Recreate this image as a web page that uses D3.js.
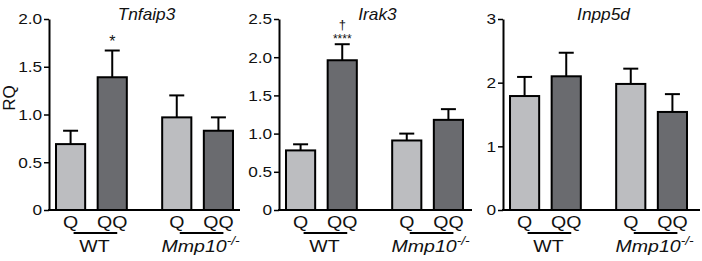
<!DOCTYPE html>
<html lang="en">
<head>
<meta charset="UTF-8">
<title>RQ</title>
<script src="https://d3js.org/d3.v7.min.js"></script>
<style>
  body { margin: 0; background: #fff; }
  svg text { font-family: "Liberation Sans", Arial, sans-serif; fill: #111; }
</style>
</head>
<body>
<div class="chart"></div>
<script>
  // data
  const genes = ["Tnfaip3", "Irak3", "Inpp5d"];
  const groups = ["WT", "Mmp10"];
  const treatments = ["Q", "QQ"];

  const tnfaip3Mean = [0.69, 1.39, 0.97, 0.83];
  const tnfaip3Err = [0.14, 0.28, 0.23, 0.14];
  const irak3Mean = [0.78, 1.96, 0.91, 1.18];
  const irak3Err = [0.08, 0.21, 0.09, 0.14];
  const inpp5dMean = [1.79, 2.10, 1.98, 1.54];
  const inpp5dErr = [0.30, 0.37, 0.24, 0.28];

  const yMax = [2, 2.5, 3];
  const yTicks = [[0, 0.5, 1, 1.5, 2], [0, 0.5, 1, 1.5, 2, 2.5], [0, 1, 2, 3]];
  const stars = [["", "*", "", ""], ["", "****", "", ""], ["", "", "", ""]];
  const daggers = [["", "", "", ""], ["", "\u2020", "", ""], ["", "", "", ""]];

  const means = [tnfaip3Mean, irak3Mean, inpp5dMean];
  const errs = [tnfaip3Err, irak3Err, inpp5dErr];

  const W = 702, H = 261;
  const yTop = 19, yBottom = 210;
  const panelLeft = [49, 279, 503];
  const panelWidth = [191, 193, 197];
  const colors = {Q: "#bcbdc0", QQ: "#6a6b6f"};
  const sx = 1.15; // the original lettering is a bit wide

  const svg = d3.select(".chart").append("svg")
    .attr("width", W).attr("height", H);

  // y label
  svg.append("text")
    .attr("transform", "translate(15,98) rotate(-90)")
    .attr("text-anchor", "middle")
    .style("font-size", "17px")
    .text("RQ");

  genes.forEach((gene, gi) => {
    const g = svg.append("g").attr("transform", `translate(${panelLeft[gi]},0)`);

    const y = d3.scaleLinear().domain([0, yMax[gi]]).range([yBottom, yTop]);

    // group band + Q/QQ band inside
    const xg = d3.scaleBand().domain(groups).range([0, 191])
      .paddingInner(0.333).paddingOuter(0.066);
    const xt = d3.scaleBand().domain(treatments).range([0, xg.bandwidth()])
      .paddingInner(0.3).paddingOuter(0);

    const rows = [];
    groups.forEach((grp, i) => treatments.forEach((t, j) => {
      const k = i * 2 + j;
      rows.push({grp, t, mean: means[gi][k], err: errs[gi][k],
                 star: stars[gi][k], dag: daggers[gi][k]});
    }));
    const cx = d => xg(d.grp) + xt(d.t) + xt.bandwidth() / 2;

    // error bars (upper only)
    g.selectAll(".err").data(rows).join("line")
      .attr("x1", cx).attr("x2", cx)
      .attr("y1", d => y(d.mean)).attr("y2", d => y(d.mean + d.err))
      .attr("stroke", "#000").attr("stroke-width", 2);
    g.selectAll(".cap").data(rows).join("line")
      .attr("x1", d => cx(d) - 7.5).attr("x2", d => cx(d) + 7.5)
      .attr("y1", d => y(d.mean + d.err)).attr("y2", d => y(d.mean + d.err))
      .attr("stroke", "#000").attr("stroke-width", 2);

    // bars
    g.selectAll(".bar").data(rows).join("rect")
      .attr("x", d => xg(d.grp) + xt(d.t))
      .attr("y", d => y(d.mean))
      .attr("width", xt.bandwidth())
      .attr("height", d => y(0) - y(d.mean))
      .attr("fill", d => colors[d.t])
      .attr("stroke", "#000").attr("stroke-width", 2);

    // significance marks
    g.selectAll(".star").data(rows.filter(d => d.star)).join("text")
      .attr("x", cx).attr("y", d => y(d.mean + d.err) - (d.star.length > 1 ? 1 : 4))
      .attr("text-anchor", "middle")
      .style("font-size", d => d.star.length > 1 ? "12px" : "16px")
      .text(d => d.star);
    g.selectAll(".dag").data(rows.filter(d => d.dag)).join("text")
      .attr("x", cx).attr("y", d => y(d.mean + d.err) - 15)
      .attr("text-anchor", "middle")
      .style("font-size", "13px")
      .text(d => d.dag);

    // y axis
    const fmt = gi === 2 ? d3.format("d") : (d => d === 0 ? "0" : d3.format(".1f")(d));
    const ya = g.append("g")
      .call(d3.axisLeft(y).tickValues(yTicks[gi]).tickFormat(fmt).tickSize(5).tickSizeOuter(0).tickPadding(1));
    ya.select(".domain").attr("stroke-width", 2);
    ya.selectAll(".tick line").attr("stroke-width", 1.5);
    ya.selectAll("text")
      .style("font-size", "15px").attr("fill", "#111")
      .attr("transform", `scale(${sx},1)`);

    // x baseline
    g.append("line")
      .attr("x1", -1).attr("x2", panelWidth[gi])
      .attr("y1", yBottom).attr("y2", yBottom)
      .attr("stroke", "#000").attr("stroke-width", 2);

    // treatment labels
    g.selectAll(".tl").data(rows).join("text")
      .attr("transform", d => `translate(${cx(d)},228) scale(${sx},1)`)
      .attr("text-anchor", "middle")
      .style("font-size", "17px")
      .text(d => d.t);

    // group underline + labels
    groups.forEach(grp => {
      const x0 = xg(grp) + xt("Q") + xt.bandwidth() / 2 + 3;
      const x1 = xg(grp) + xt("QQ") + xt.bandwidth() / 2 + 5;
      g.append("line")
        .attr("x1", x0).attr("x2", x1).attr("y1", 233).attr("y2", 233)
        .attr("stroke", "#000").attr("stroke-width", 2);
      const t = g.append("text")
        .attr("transform", `translate(${xg(grp) + xg.bandwidth() / 2 + 3},252) scale(${sx},1)`)
        .attr("text-anchor", "middle")
        .style("font-size", "17px");
      if (grp === "WT") {
        t.text("WT");
      } else {
        t.style("font-style", "italic");
        t.append("tspan").text("Mmp10");
        t.append("tspan").attr("dy", -7).style("font-size", "12px").text("-/-");
      }
    });

    // title
    g.append("text")
      .attr("transform", `translate(${panelWidth[gi] / 2 + 2},20) scale(1.08,1)`)
      .attr("text-anchor", "middle")
      .style("font-size", "16px").style("font-style", "italic")
      .text(gene);
  });
</script>
</body>
</html>
